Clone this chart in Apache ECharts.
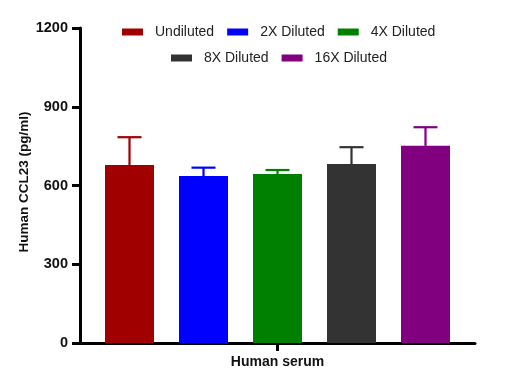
<!DOCTYPE html>
<html>
<head>
<meta charset="utf-8">
<script src="https://cdn.jsdelivr.net/npm/echarts@6/dist/echarts.min.js"></script>
<style>html,body{margin:0;padding:0;background:#fff}#c{width:520px;height:389px}</style>
</head>
<body>
<div id="c"></div>
<script>
const categories = ['Human serum'];
const seriesNames = ['Undiluted', '2X Diluted', '4X Diluted', '8X Diluted', '16X Diluted'];
const means = [678, 636, 644, 682, 751];
const uppers = [784, 668, 659, 746, 822];
const yTicks = [0, 300, 600, 900, 1200];
const colors = ['#a00000', '#0000ff', '#008000', '#333333', '#800080'];

const BAR_W = 49, BAR_GAP_PX = 25, CAP_W = 24;

const barSeries = seriesNames.map((name, i) => ({
  name, type: 'bar', data: [means[i]], barWidth: BAR_W, barGap: (BAR_GAP_PX / BAR_W * 100) + '%',
  itemStyle: { color: colors[i] }, z: 2
}));

const errData = seriesNames.map((n, i) => [0, means[i], uppers[i], i]);
const errSeries = {
  type: 'custom', name: 'err', data: errData, z: 3,
  renderItem: function (params, api) {
    const idx = api.value(3);
    const off = (idx - (seriesNames.length - 1) / 2) * (BAR_W + BAR_GAP_PX);
    const b = api.coord([api.value(0), api.value(1)]);
    const t = api.coord([api.value(0), api.value(2)]);
    const x = b[0] + off;
    const st = { stroke: colors[idx], lineWidth: 2.2 };
    return { type: 'group', children: [
      { type: 'line', shape: { x1: x, y1: b[1], x2: x, y2: t[1] }, style: st },
      { type: 'line', shape: { x1: x - CAP_W / 2, y1: t[1], x2: x + CAP_W / 2, y2: t[1] }, style: st }
    ]};
  }
};

const legendText = { fontFamily: 'Liberation Sans', fontSize: 14, color: '#222', padding: [0, 0, 0, 7] };
const chart = echarts.init(document.getElementById('c'), null, { renderer: 'canvas' });
chart.setOption({
  animation: false,
  backgroundColor: '#fff',
  legend: [
    { data: seriesNames.slice(0, 3), left: 122, top: 25, padding: 0, itemWidth: 21, itemHeight: 7, itemGap: 13,
      icon: 'rect', textStyle: legendText },
    { data: seriesNames.slice(3), left: 171, top: 51, padding: 0, itemWidth: 21, itemHeight: 7, itemGap: 13,
      icon: 'rect', textStyle: legendText }
  ],
  grid: { left: 80, right: 45, top: 28, bottom: 46, containLabel: false },
  xAxis: {
    type: 'category', data: categories,
    axisLine: { lineStyle: { color: '#000', width: 3 } },
    axisTick: { show: true, alignWithLabel: true, length: 8, lineStyle: { color: '#000', width: 3 } },
    axisLabel: { fontFamily: 'Liberation Sans', fontWeight: 'bold', fontSize: 14, color: '#111', margin: 12 }
  },
  yAxis: {
    type: 'value', min: yTicks[0], max: yTicks[yTicks.length - 1], interval: yTicks[1] - yTicks[0],
    name: 'Human CCL23 (pg/ml)', nameLocation: 'middle', nameGap: 49, nameMoveOverlap: false,
    nameTextStyle: { fontFamily: 'Liberation Sans', fontWeight: 'bold', fontSize: 13.5, color: '#111',
      padding: [0, 0, 0, 7] },
    axisLine: { show: true, lineStyle: { color: '#000', width: 3 } },
    axisTick: { show: true, length: 8, lineStyle: { color: '#000', width: 3 } },
    splitLine: { show: false },
    axisLabel: { fontFamily: 'Liberation Sans', fontWeight: 'bold', fontSize: 14.5, color: '#111', margin: 12,
      formatter: v => String(v) }
  },
  series: [...barSeries, errSeries]
});
</script>
</body>
</html>
